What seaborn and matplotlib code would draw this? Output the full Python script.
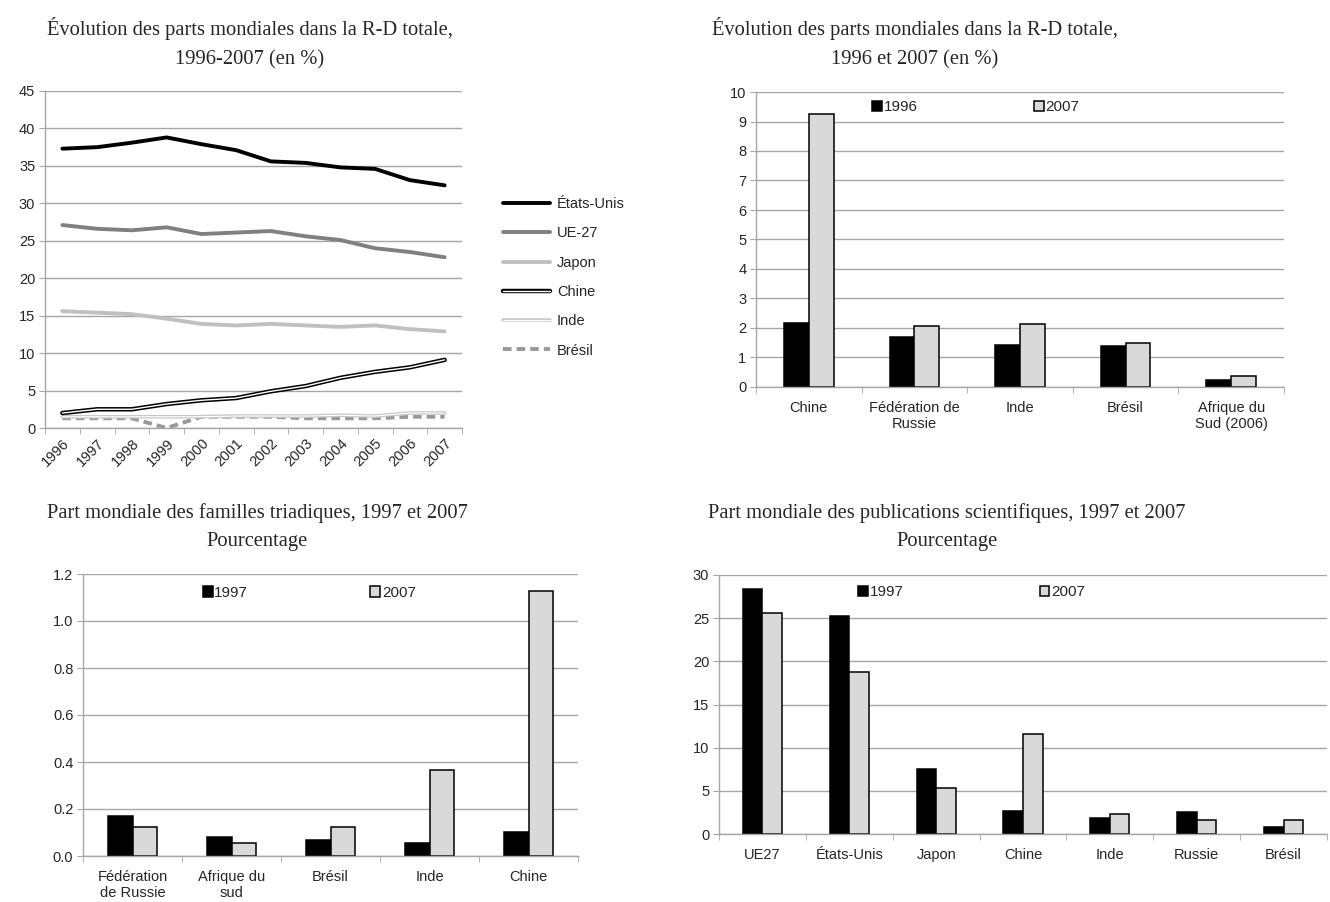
import numpy as np
import pandas as pd
import matplotlib
matplotlib.use("Agg")
import matplotlib.pyplot as plt
import matplotlib.patheffects as pe
import seaborn as sns

# --- données : R-D totale 1996-2007 (en %)
years = [1996, 1997, 1998, 1999, 2000, 2001, 2002, 2003, 2004, 2005, 2006, 2007]
etats_unis = [37.3, 37.5, 38.1, 38.8, 37.9, 37.1, 35.6, 35.4, 34.8, 34.6, 33.1, 32.4]
ue27 = [27.1, 26.6, 26.4, 26.8, 25.9, 26.1, 26.3, 25.6, 25.1, 24.0, 23.5, 22.8]
japon = [15.6, 15.4, 15.2, 14.6, 13.9, 13.7, 13.9, 13.7, 13.5, 13.7, 13.2, 12.9]
chine = [2.0, 2.5, 2.5, 3.2, 3.7, 4.0, 4.9, 5.6, 6.7, 7.5, 8.1, 9.1]
inde = [1.5, 1.5, 1.5, 1.5, 1.5, 1.6, 1.6, 1.6, 1.7, 1.6, 2.0, 2.0]
bresil = [1.3, 1.3, 1.3, 0.0, 1.5, 1.5, 1.5, 1.3, 1.3, 1.3, 1.5, 1.5]

# --- R-D 1996 et 2007
rd_pays = ["Chine", "Fédération de\nRussie", "Inde", "Brésil", "Afrique du\nSud (2006)"]
rd_1996 = [2.17, 1.70, 1.42, 1.38, 0.25]
rd_2007 = [9.24, 2.06, 2.15, 1.50, 0.37]

# --- familles triadiques 1997 et 2007
tri_pays = ["Fédération\nde Russie", "Afrique du\nsud", "Brésil", "Inde", "Chine"]
tri_1997 = [0.170, 0.080, 0.068, 0.057, 0.102]
tri_2007 = [0.125, 0.057, 0.125, 0.368, 1.126]

# --- publications scientifiques 1997 et 2007
pub_pays = ["UE27", "États-Unis", "Japon", "Chine", "Inde", "Russie", "Brésil"]
pub_1997 = [28.4, 25.3, 7.5, 2.7, 1.8, 2.5, 0.85]
pub_2007 = [25.6, 18.8, 5.3, 11.6, 2.35, 1.6, 1.6]

sns.set_style("white")
plt.rcParams['font.family'] = ['Liberation Sans', 'DejaVu Sans']
plt.rcParams['axes.unicode_minus'] = False

GRID = "#a6a6a6"
W, H = 1330, 902
fig = plt.figure(figsize=(13.3, 9.02), dpi=100)


def box(x0, y0, x1, y1):
    # pixel box -> figure fraction
    return [x0 / W, 1 - y1 / H, (x1 - x0) / W, (y1 - y0) / H]


def style_axes(ax, ymax, step, fmt=None):
    ax.set_ylim(0, ymax)
    ticks = np.arange(0, ymax + step / 2, step)
    ax.set_yticks(ticks)
    if fmt:
        ax.set_yticklabels([fmt.format(t) for t in ticks])
    ax.yaxis.grid(True, color=GRID, lw=1)
    ax.set_axisbelow(True)
    for s in ["top", "right"]:
        ax.spines[s].set_visible(False)
    for s in ["left", "bottom"]:
        ax.spines[s].set_color(GRID)
        ax.spines[s].set_linewidth(1)
    ax.tick_params(axis="y", left=True, length=4, color=GRID, labelsize=10.5, pad=3)
    ax.tick_params(axis="x", which="major", length=0, labelsize=10.5, pad=10)
    ax.tick_params(axis="x", which="minor", bottom=True, length=4, color=GRID)
    ax.set_xlabel("")
    ax.set_ylabel("")


def title(x, y, txt):
    fig.text(x / W, 1 - y / H, txt, ha="center", va="center", fontsize=14.8,
             family="Liberation Serif", linespacing=1.7)


# ---------- graphique 1 : courbes
ax1 = fig.add_axes(box(45, 91, 462, 428))
series = [
    ("États-Unis", etats_unis, dict(color="black", lw=2.8)),
    ("UE-27", ue27, dict(color="#808080", lw=2.8)),
    ("Japon", japon, dict(color="#c0c0c0", lw=2.8)),
    ("Chine", chine, dict(color="white", lw=1.0,
                          path_effects=[pe.Stroke(linewidth=3.2, foreground="black"), pe.Normal()])),
    ("Inde", inde, dict(color="white", lw=0.8,
                        path_effects=[pe.Stroke(linewidth=2.6, foreground="#c8c8c8"), pe.Normal()])),
    ("Brésil", bresil, dict(color="#999999", lw=2.8, dashes=(2.2, 1.3))),
]
for name, vals, kw in series[::-1]:
    df = pd.DataFrame({"annee": years, "part": vals})
    dashes = kw.pop("dashes", None)
    sns.lineplot(data=df, x="annee", y="part", ax=ax1, label=name, **kw)
    if dashes:
        ax1.lines[-1].set_dashes(dashes)

ax1.set_xlim(1995.5, 2007.5)
style_axes(ax1, 45, 5)
ax1.set_xticks(years)
ax1.set_xticklabels([str(y) for y in years], rotation=45, ha="right", rotation_mode="anchor")
ax1.set_xticks(np.arange(1995.5, 2008, 1), minor=True)
ax1.tick_params(axis="x", which="major", pad=6)
h, l = ax1.get_legend_handles_labels()
ax1.legend(h[::-1], l[::-1], loc="upper left", bbox_to_anchor=(503 / W, 1 - 197 / H),
           bbox_transform=fig.transFigure, frameon=False, fontsize=10.5,
           handlelength=3.2, handletextpad=0.5, labelspacing=1.05, borderpad=0, borderaxespad=0)
title(250, 43, "Évolution des parts mondiales dans la R-D totale,\n1996-2007 (en %)")


def bar_chart(rect, pays, lab1, v1, lab2, v2, width, ymax, step, leg_x, leg_y, colsp, fmt=None):
    ax = fig.add_axes(rect)
    df = pd.DataFrame({"pays": pays * 2, "annee": [lab1] * len(pays) + [lab2] * len(pays),
                       "val": v1 + v2})
    sns.barplot(data=df, x="pays", y="val", hue="annee", palette=["black", "#d9d9d9"],
                width=width, edgecolor="black", linewidth=1.1, ax=ax, legend=True)
    ax.set_xlim(-0.5, len(pays) - 0.5)
    style_axes(ax, ymax, step, fmt)
    ax.set_xticks(np.arange(-0.5, len(pays), 1), minor=True)
    h, l = ax.get_legend_handles_labels()
    ax.legend(h, l, ncol=2, loc="center left", bbox_to_anchor=(leg_x, leg_y), frameon=False,
              fontsize=11, handlelength=0.65, handleheight=0.65, handletextpad=0.1,
              columnspacing=colsp, borderpad=0, borderaxespad=0)
    return ax


# ---------- graphique 2
bar_chart(box(756, 92, 1284, 387), rd_pays, "1996", rd_1996, "2007", rd_2007,
          0.47, 10, 1, 0.22, 0.949, 7.6)
title(915, 43, "Évolution des parts mondiales dans la R-D totale,\n1996 et 2007 (en %)")

# ---------- graphique 3
bar_chart(box(83, 574, 578, 856), tri_pays, "1997", tri_1997, "2007", tri_2007,
          0.5, 1.2, 0.2, 0.242, 0.933, 8.0, fmt="{:.1f}")
title(257, 527, "Part mondiale des familles triadiques, 1997 et 2007\nPourcentage")

# ---------- graphique 4
bar_chart(box(719, 575, 1327, 834), pub_pays, "1997", pub_1997, "2007", pub_2007,
          0.45, 30, 5, 0.229, 0.934, 8.9)
title(947, 527, "Part mondiale des publications scientifiques, 1997 et 2007\nPourcentage")

fig.savefig("out.png", dpi=100)
